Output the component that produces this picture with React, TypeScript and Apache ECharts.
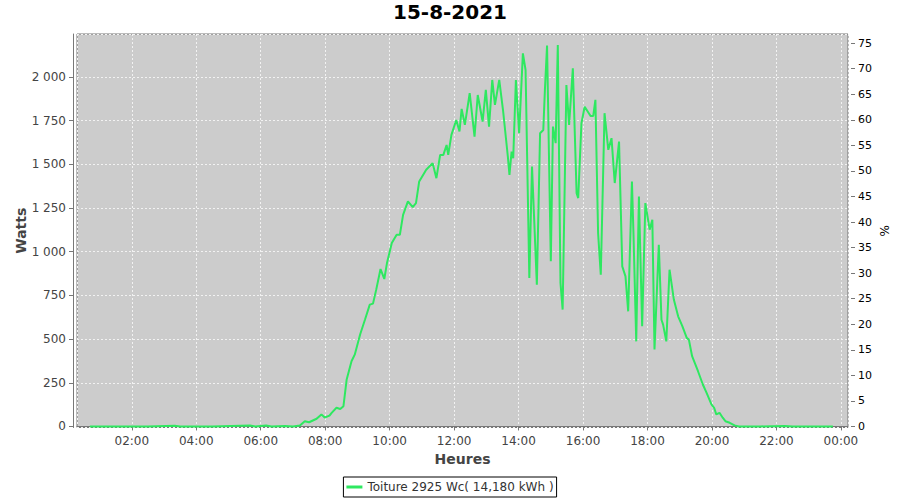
import { useEffect, useRef } from 'react';
import * as echarts from 'echarts';

const TITLE = '15-8-2021';
const SERIES_NAME = 'Toiture 2925 Wc( 14,180 kWh )';
const PEAK_WATTS = 2925;
const X_NAME = 'Heures';
const Y_NAME = 'Watts';
const Y2_NAME = '%';

const times = [
  '00:42', '01:30', '02:30', '03:20', '03:30', '04:30', '05:40', '05:50', '06:10', '06:20', '06:45', '07:00', '07:13',
  '07:22', '07:30', '07:44', '07:53', '07:59', '08:08', '08:12', '08:21', '08:28', '08:34', '08:40', '08:49', '08:55',
  '09:05', '09:14', '09:23', '09:29', '09:35', '09:43', '09:50', '09:55', '10:04', '10:13', '10:19', '10:25', '10:34',
  '10:43', '10:49', '10:55', '11:08', '11:20', '11:27', '11:34', '11:40', '11:46', '11:49', '11:55', '12:04', '12:10',
  '12:14', '12:20', '12:29', '12:38', '12:44', '12:53', '12:59', '13:05', '13:11', '13:16', '13:24', '13:31', '13:40',
  '13:43', '13:47', '13:50', '13:55', '14:01', '14:08', '14:13', '14:20', '14:25', '14:34', '14:40', '14:46', '14:49',
  '14:53', '15:00', '15:04', '15:09', '15:13', '15:18', '15:22', '15:29', '15:34', '15:41', '15:48', '15:51', '15:57',
  '16:03', '16:14', '16:19', '16:23', '16:28', '16:33', '16:40', '16:47', '16:53', '16:59', '17:07', '17:13', '17:19',
  '17:24', '17:31', '17:34', '17:39', '17:44', '17:50', '17:56', '18:04', '18:09', '18:13', '18:21', '18:26', '18:29',
  '18:35', '18:41', '18:49', '18:57', '19:05', '19:13', '19:17', '19:23', '19:34', '19:43', '19:50', '19:59', '20:04',
  '20:08', '20:14', '20:20', '20:25', '20:33', '20:42', '20:50', '21:30', '22:15', '22:30', '23:00', '23:30', '23:45',
];

const watts = [
  0, 0, 0, 4, 0, 0, 5, 0, 5, 0, 3, 0, 5,
  30, 24, 44, 69, 51, 62, 78, 107, 100, 116, 269, 373, 411,
  526, 611, 697, 703, 783, 901, 844, 935, 1050, 1097, 1097, 1211, 1288,
  1255, 1278, 1402, 1469, 1507, 1421, 1554, 1554, 1611, 1554, 1669, 1754, 1688,
  1817, 1726, 1907, 1659, 1897, 1745, 1926, 1716, 1983, 1840, 1983, 1811, 1545,
  1440, 1573, 1535, 1983, 1678, 2135, 2040, 850, 1487, 811, 1678, 1697, 1926,
  2180, 945, 1716, 1621, 2183, 821, 669, 1954, 1726, 2050, 1335, 1307, 1735,
  1830, 1777, 1777, 1869, 1107, 869, 1793, 1583, 1650, 1393, 1630, 916, 859,
  659, 1402, 1088, 487, 1316, 573, 1278, 1126, 1183, 440, 1040, 611, 583,
  487, 897, 726, 630, 573, 507, 497, 402, 316, 240, 192, 126, 107,
  69, 78, 50, 30, 21, 6, 0, 0, 3, 0, 0, 0, 0,
];

const FONT = 'DejaVu Sans';
const LINE_COLOR = '#2ee860';

function toHours(t: string): number {
  const [h, m] = t.split(':').map(Number);
  return h + m / 60;
}

function fmtWatts(v: number): string {
  const r = Math.round(v);
  if (Math.abs(r) >= 1000) {
    const th = Math.floor(r / 1000);
    const rest = String(r % 1000).padStart(3, '0');
    return th + ' ' + rest;
  }
  return String(r);
}

function fmtHour(v: number): string {
  const h = Math.round(v) % 24;
  return (h < 10 ? '0' : '') + h + ':00';
}

export default function App() {
  const ref = useRef<HTMLDivElement>(null);
  useEffect(() => {
    if (!ref.current) return;
    const chart = echarts.init(ref.current, null, { renderer: 'svg' });
    const yMin = -6;
    const yMax = 2246;
    const data = times.map((t, i) => [toHours(t), watts[i]]);
    chart.setOption({
      animation: false,
      backgroundColor: '#ffffff',
      title: {
        text: TITLE,
        left: 'center',
        top: 2,
        padding: 0,
        textStyle: { fontFamily: FONT, fontSize: 20, fontWeight: 'bold', color: '#000' },
      },
      legend: {
        data: [{ name: SERIES_NAME, icon: 'rect' }],
        left: 'center',
        top: 477,
        padding: [3, 3, 3, 3],
        itemWidth: 16,
        itemHeight: 3,
        borderColor: '#000',
        borderWidth: 1,
        borderRadius: 0,
        itemStyle: { color: LINE_COLOR },
        textStyle: { fontFamily: FONT, fontSize: 12, color: '#333', lineHeight: 14 },
      },
      grid: {
        left: 77,
        top: 34,
        right: 52,
        bottom: 72.5,
        show: true,
        backgroundColor: '#cccccc',
        borderColor: '#777',
        borderWidth: 1,
        containLabel: false,
      },
      xAxis: {
        type: 'value',
        min: 0.3,
        max: 24.22,
        minInterval: 2,
        maxInterval: 2,
        splitNumber: 12,
        offset: 4,
        name: X_NAME,
        nameLocation: 'middle',
        nameGap: 20,
        nameMoveOverlap: false,
        nameTextStyle: { fontFamily: FONT, fontSize: 14, fontWeight: 'bold', color: '#444' },
        axisLine: { show: true, lineStyle: { color: '#777', width: 1 } },
        axisTick: { show: true, length: 4, lineStyle: { color: '#777' } },
        axisLabel: {
          fontFamily: FONT,
          fontSize: 12,
          color: '#444',
          margin: 3,
          showMinLabel: false,
          showMaxLabel: false,
          formatter: fmtHour,
        },
        splitLine: { show: true, lineStyle: { color: '#f2f2f2', type: [2, 2], width: 1 } },
      },
      yAxis: [
        {
          type: 'value',
          position: 'left',
          min: yMin,
          max: yMax,
          minInterval: 250,
          maxInterval: 250,
          splitNumber: 9,
          offset: 4,
          name: Y_NAME,
          nameLocation: 'middle',
          nameGap: 45,
          nameMoveOverlap: false,
          nameTextStyle: { fontFamily: FONT, fontSize: 14, fontWeight: 'bold', color: '#444' },
          axisLine: { show: true, lineStyle: { color: '#777', width: 1 } },
          axisTick: { show: true, length: 4, lineStyle: { color: '#777' } },
          axisLabel: {
            fontFamily: FONT,
            fontSize: 12,
            color: '#444',
            margin: 7,
            showMinLabel: false,
            showMaxLabel: false,
            formatter: fmtWatts,
          },
          splitLine: { show: true, lineStyle: { color: '#f2f2f2', type: [2, 2], width: 1 } },
        },
        {
          type: 'value',
          position: 'right',
          min: (yMin / PEAK_WATTS) * 100,
          max: (yMax / PEAK_WATTS) * 100,
          minInterval: 5,
          maxInterval: 5,
          splitNumber: 15,
          offset: 3,
          name: Y2_NAME,
          nameLocation: 'middle',
          nameGap: 28,
          nameMoveOverlap: false,
          nameTextStyle: { fontFamily: FONT, fontSize: 12, color: '#000' },
          axisLine: { show: false },
          axisTick: { show: true, length: 4, lineStyle: { color: '#777' } },
          axisLabel: {
            fontFamily: FONT,
            fontSize: 11,
            color: '#000',
            margin: 7,
            showMinLabel: false,
            showMaxLabel: false,
            formatter: (v: number) => String(Math.round(v)),
          },
          splitLine: { show: false },
        },
      ],
      series: [
        {
          name: SERIES_NAME,
          type: 'line',
          yAxisIndex: 0,
          data,
          symbol: 'none',
          showSymbol: false,
          lineStyle: { color: LINE_COLOR, width: 2 },
          itemStyle: { color: LINE_COLOR },
        },
      ],
    });
    return () => chart.dispose();
  }, []);
  return (
    <div
      ref={ref}
      style={{ position: 'fixed', left: 0, top: 0, width: 900, height: 500 }}
    />
  );
}
